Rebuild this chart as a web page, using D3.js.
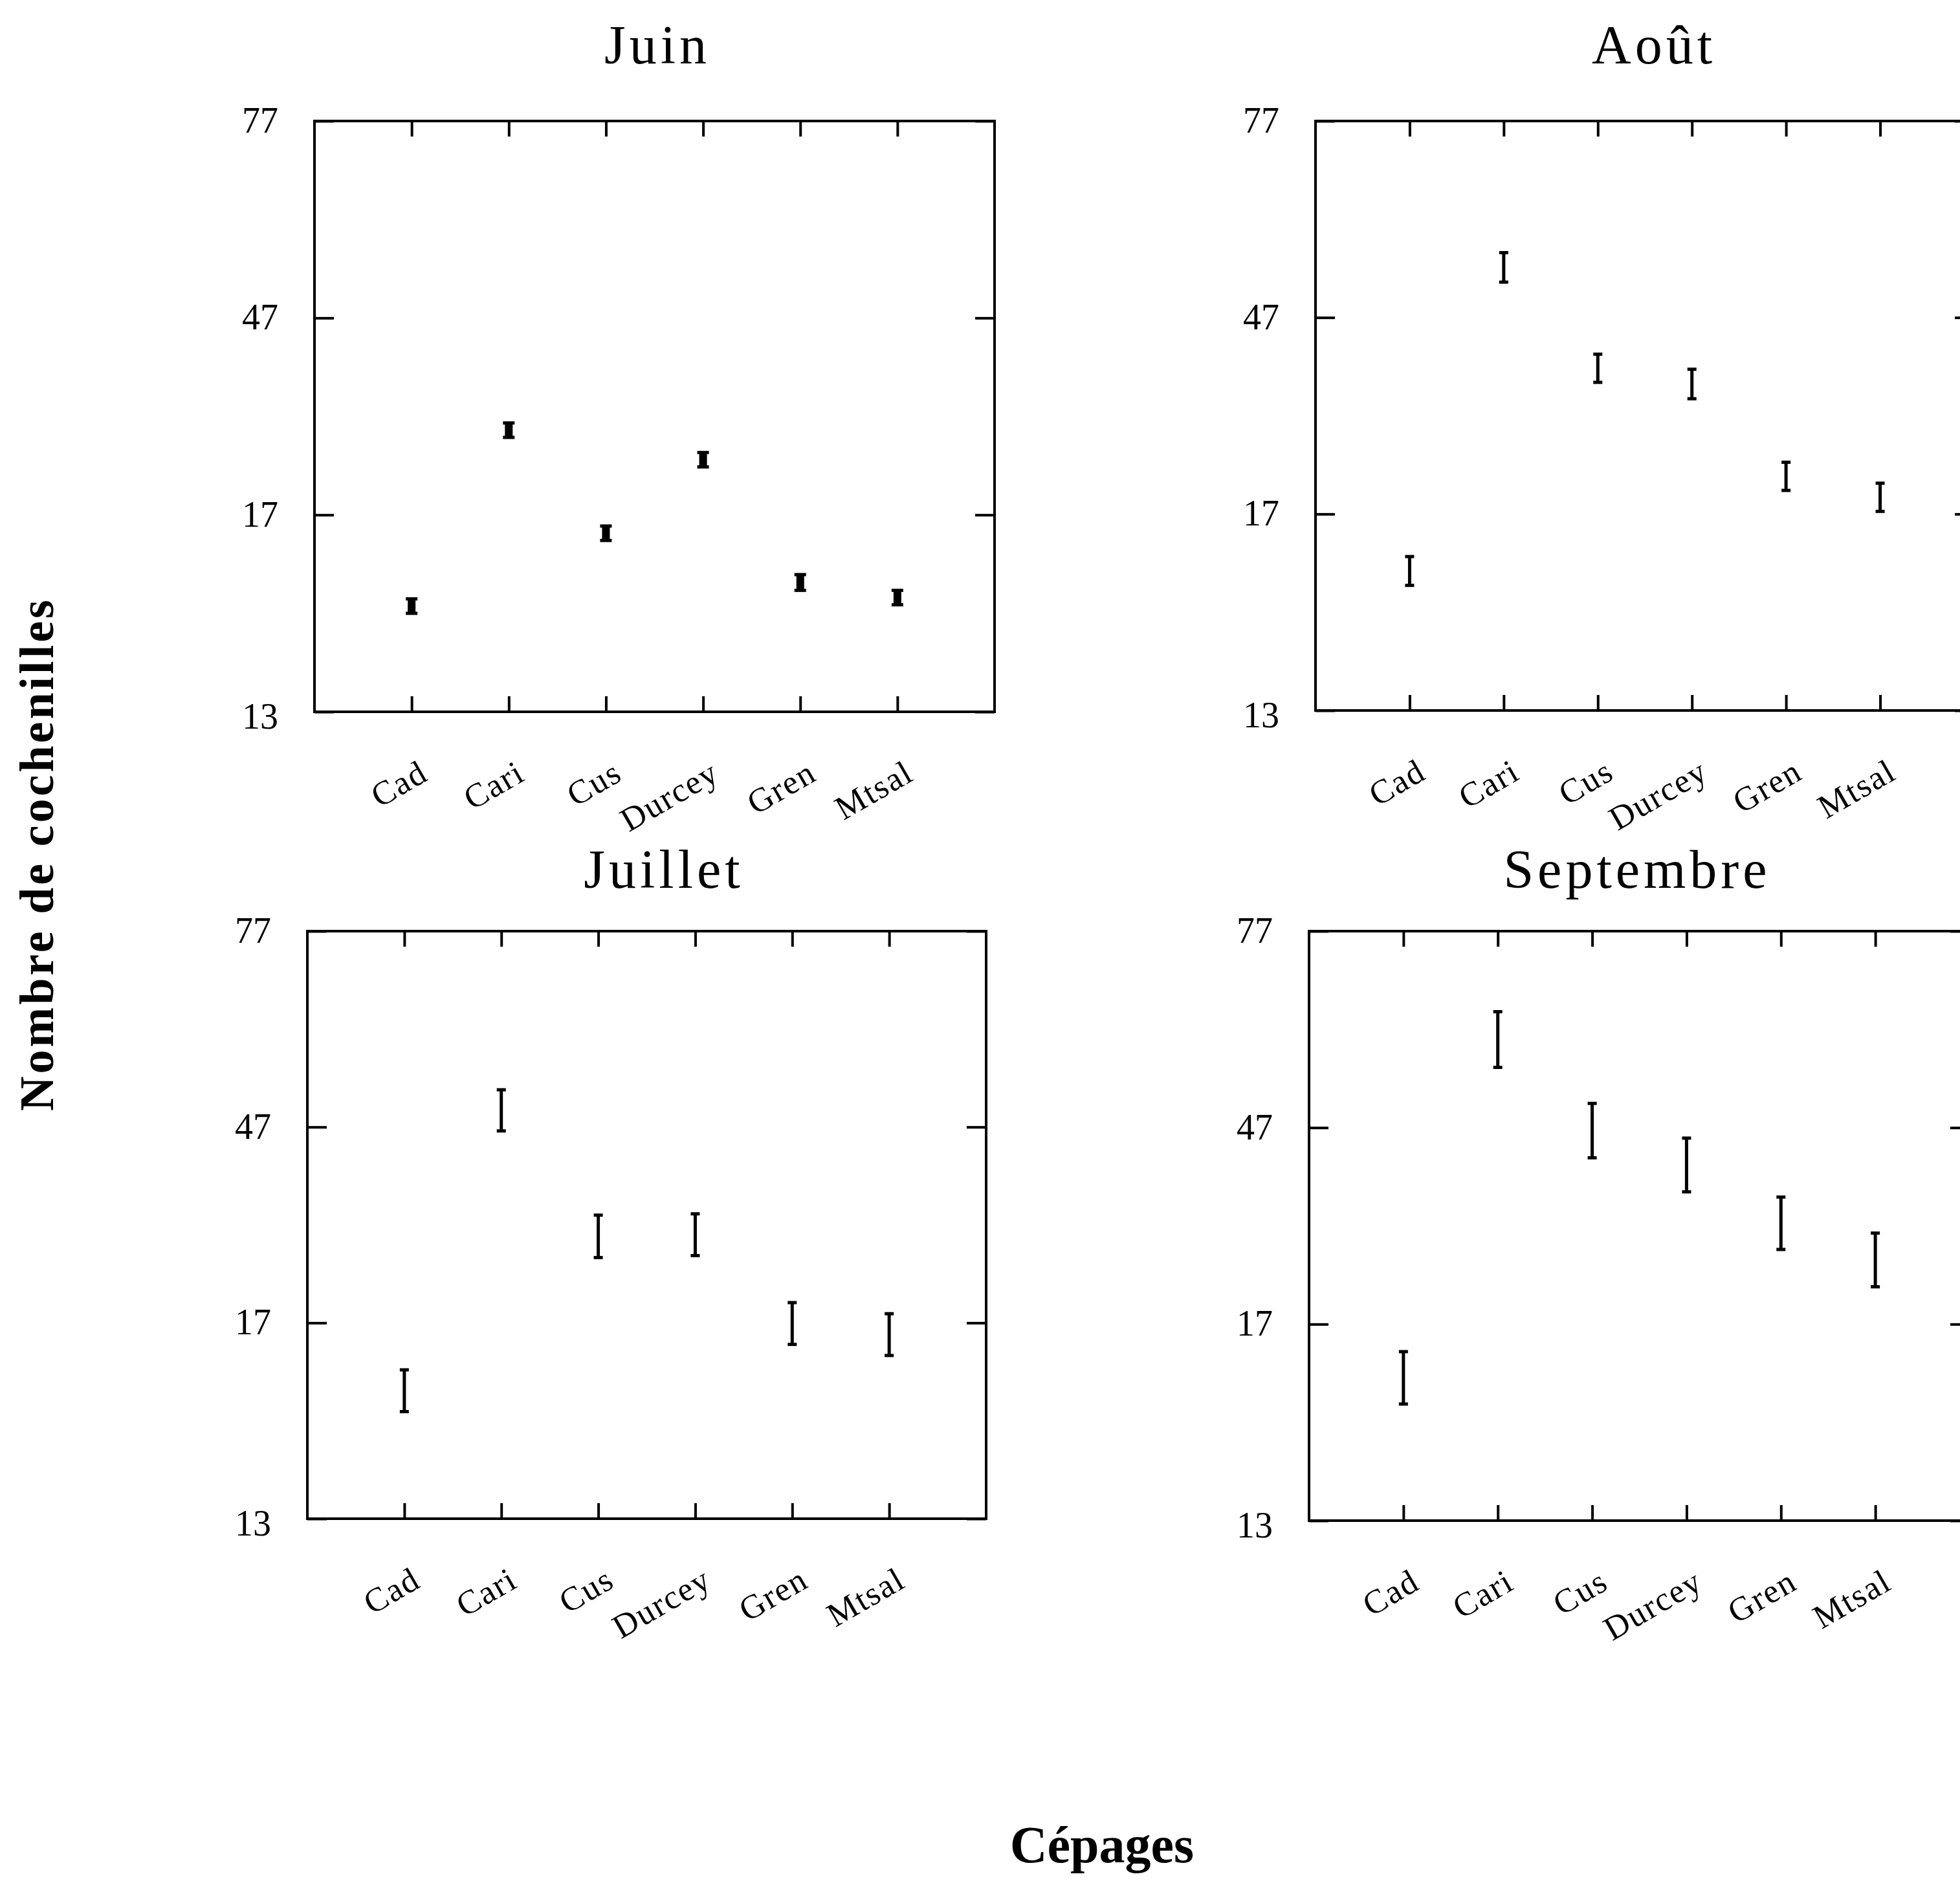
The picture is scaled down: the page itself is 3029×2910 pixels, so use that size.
<!DOCTYPE html>
<html>
<head>
<meta charset="utf-8">
<script src="https://cdn.jsdelivr.net/npm/d3@7"></script>
<style>
  html, body { margin: 0; padding: 0; background: #fff; }
  svg { display: block; }
</style>
</head>
<body>
<script>
// ---------- data ----------
const categories = ["Cad", "Cari", "Cus", "Durcey", "Gren", "Mtsal"];
const yTickValues = [-13, 17, 47, 77];
const yTickLabels = ["13", "17", "47", "77"];
const yDomain = [-13, 77];

const juinLow     = [2.0, 28.8, 13.1, 24.3, 5.5, 3.3];
const juinHigh    = [4.2, 31.0, 15.3, 26.5, 7.9, 5.5];
const aoutLow     = [6.1, 52.4, 37.1, 34.6, 20.6, 17.4];
const aoutHigh    = [10.5, 56.9, 41.4, 39.1, 24.9, 21.7];
const juilletLow  = [3.4, 46.4, 27.0, 27.3, 13.7, 12.0];
const juilletHigh = [9.8, 52.7, 33.5, 33.7, 20.1, 18.4];
const septLow     = [4.8, 56.2, 42.4, 37.2, 28.4, 22.7];
const septHigh    = [12.8, 64.7, 50.7, 45.4, 36.4, 30.9];

const panelTitles = ["Juin", "Août", "Juillet", "Septembre"];
const yTitle = "Nombre de cochenilles";
const xTitle = "Cépages";

// ---------- layout ----------
const W = 3029, H = 2910;
const FONT = "'Liberation Serif', 'Times New Roman', serif";

const panels = [
  { title: panelTitles[0], low: juinLow, high: juinHigh, x0: 486, x1: 1537, y0: 187, y1: 1100, tx: 1016, ty: 98, thick: true },
  { title: panelTitles[1], low: aoutLow, high: aoutHigh, x0: 2033, x1: 3051, y0: 187, y1: 1098, tx: 2556, ty: 98, thick: false },
  { title: panelTitles[2], low: juilletLow, high: juilletHigh, x0: 475, x1: 1524, y0: 1439, y1: 2347, tx: 1026, ty: 1372, thick: false },
  { title: panelTitles[3], low: septLow, high: septHigh, x0: 2023, x1: 3044, y0: 1439, y1: 2350, tx: 2530, ty: 1372, thick: false }
];

const svg = d3.select("body").append("svg")
  .attr("width", W).attr("height", H)
  .attr("viewBox", `0 0 ${W} ${H}`)
  .style("font-family", FONT);

svg.append("rect").attr("width", W).attr("height", H).attr("fill", "#fff");

panels.forEach(p => {
  const x = d3.scalePoint().domain(categories).range([p.x0, p.x1]).padding(1);
  const y = d3.scaleLinear().domain(yDomain).range([p.y1, p.y0]);
  const g = svg.append("g");

  // frame
  g.append("rect")
    .attr("x", p.x0).attr("y", p.y0)
    .attr("width", p.x1 - p.x0).attr("height", p.y1 - p.y0)
    .attr("fill", "none").attr("stroke", "#000").attr("stroke-width", 4);

  // axes with inward ticks
  const styleAxis = sel => {
    sel.select(".domain").remove();
    sel.selectAll(".tick line").attr("stroke", "#000").attr("stroke-width", 4);
  };

  g.append("g").attr("transform", `translate(0,${p.y1})`)
    .call(d3.axisBottom(x).tickSizeInner(-24).tickSizeOuter(0).tickFormat(""))
    .call(styleAxis);
  g.append("g").attr("transform", `translate(0,${p.y0})`)
    .call(d3.axisTop(x).tickSizeInner(-24).tickSizeOuter(0).tickFormat(""))
    .call(styleAxis);
  g.append("g").attr("transform", `translate(${p.x0},0)`)
    .call(d3.axisLeft(y).tickValues(yTickValues).tickSizeInner(-30).tickSizeOuter(0).tickFormat(""))
    .call(styleAxis);
  g.append("g").attr("transform", `translate(${p.x1},0)`)
    .call(d3.axisRight(y).tickValues(yTickValues).tickSizeInner(-30).tickSizeOuter(0).tickFormat(""))
    .call(styleAxis);

  // y tick labels
  g.selectAll(".ylab").data(yTickValues).join("text")
    .attr("class", "ylab")
    .attr("x", p.x0 - 56)
    .attr("y", (d, i) => y(d) + (i === 0 ? 26 : 18))
    .attr("text-anchor", "end")
    .attr("font-size", 56)
    .attr("fill", "#000")
    .text((d, i) => yTickLabels[i]);

  // x tick labels (rotated)
  g.selectAll(".xlab").data(categories).join("text")
    .attr("class", "xlab")
    .attr("transform", d => `translate(${x(d) + 28},${p.y1 + 104}) rotate(-30)`)
    .attr("text-anchor", "end")
    .attr("font-size", 52)
    .attr("letter-spacing", 2)
    .attr("fill", "#000")
    .text(d => d);

  // error bars
  const data = categories.map((c, i) => ({ c, lo: p.low[i], hi: p.high[i] }));
  const sw = p.thick ? 12 : 5;
  const cw = p.thick ? 9 : 7;
  const bars = g.selectAll(".eb").data(data).join("g").attr("class", "eb");
  bars.append("line")
    .attr("x1", d => x(d.c)).attr("x2", d => x(d.c))
    .attr("y1", d => y(d.hi)).attr("y2", d => y(d.lo))
    .attr("stroke", "#000").attr("stroke-width", sw);
  bars.append("line")
    .attr("x1", d => x(d.c) - cw).attr("x2", d => x(d.c) + cw)
    .attr("y1", d => y(d.hi)).attr("y2", d => y(d.hi))
    .attr("stroke", "#000").attr("stroke-width", 5);
  bars.append("line")
    .attr("x1", d => x(d.c) - cw).attr("x2", d => x(d.c) + cw)
    .attr("y1", d => y(d.lo)).attr("y2", d => y(d.lo))
    .attr("stroke", "#000").attr("stroke-width", 5);

  // panel title
  g.append("text")
    .attr("x", p.tx).attr("y", p.ty)
    .attr("text-anchor", "middle")
    .attr("font-size", 84)
    .attr("letter-spacing", 6)
    .attr("fill", "#000")
    .text(p.title);
});

// global axis titles
svg.append("text")
  .attr("transform", `translate(82,1320) rotate(-90)`)
  .attr("text-anchor", "middle")
  .attr("font-size", 74)
  .attr("font-weight", "bold")
  .attr("letter-spacing", 4)
  .attr("fill", "#000")
  .text(yTitle);

svg.append("text")
  .attr("x", 1703).attr("y", 2878)
  .attr("text-anchor", "middle")
  .attr("font-size", 80)
  .attr("font-weight", "bold")
  .attr("fill", "#000")
  .text(xTitle);
</script>
</body>
</html>
